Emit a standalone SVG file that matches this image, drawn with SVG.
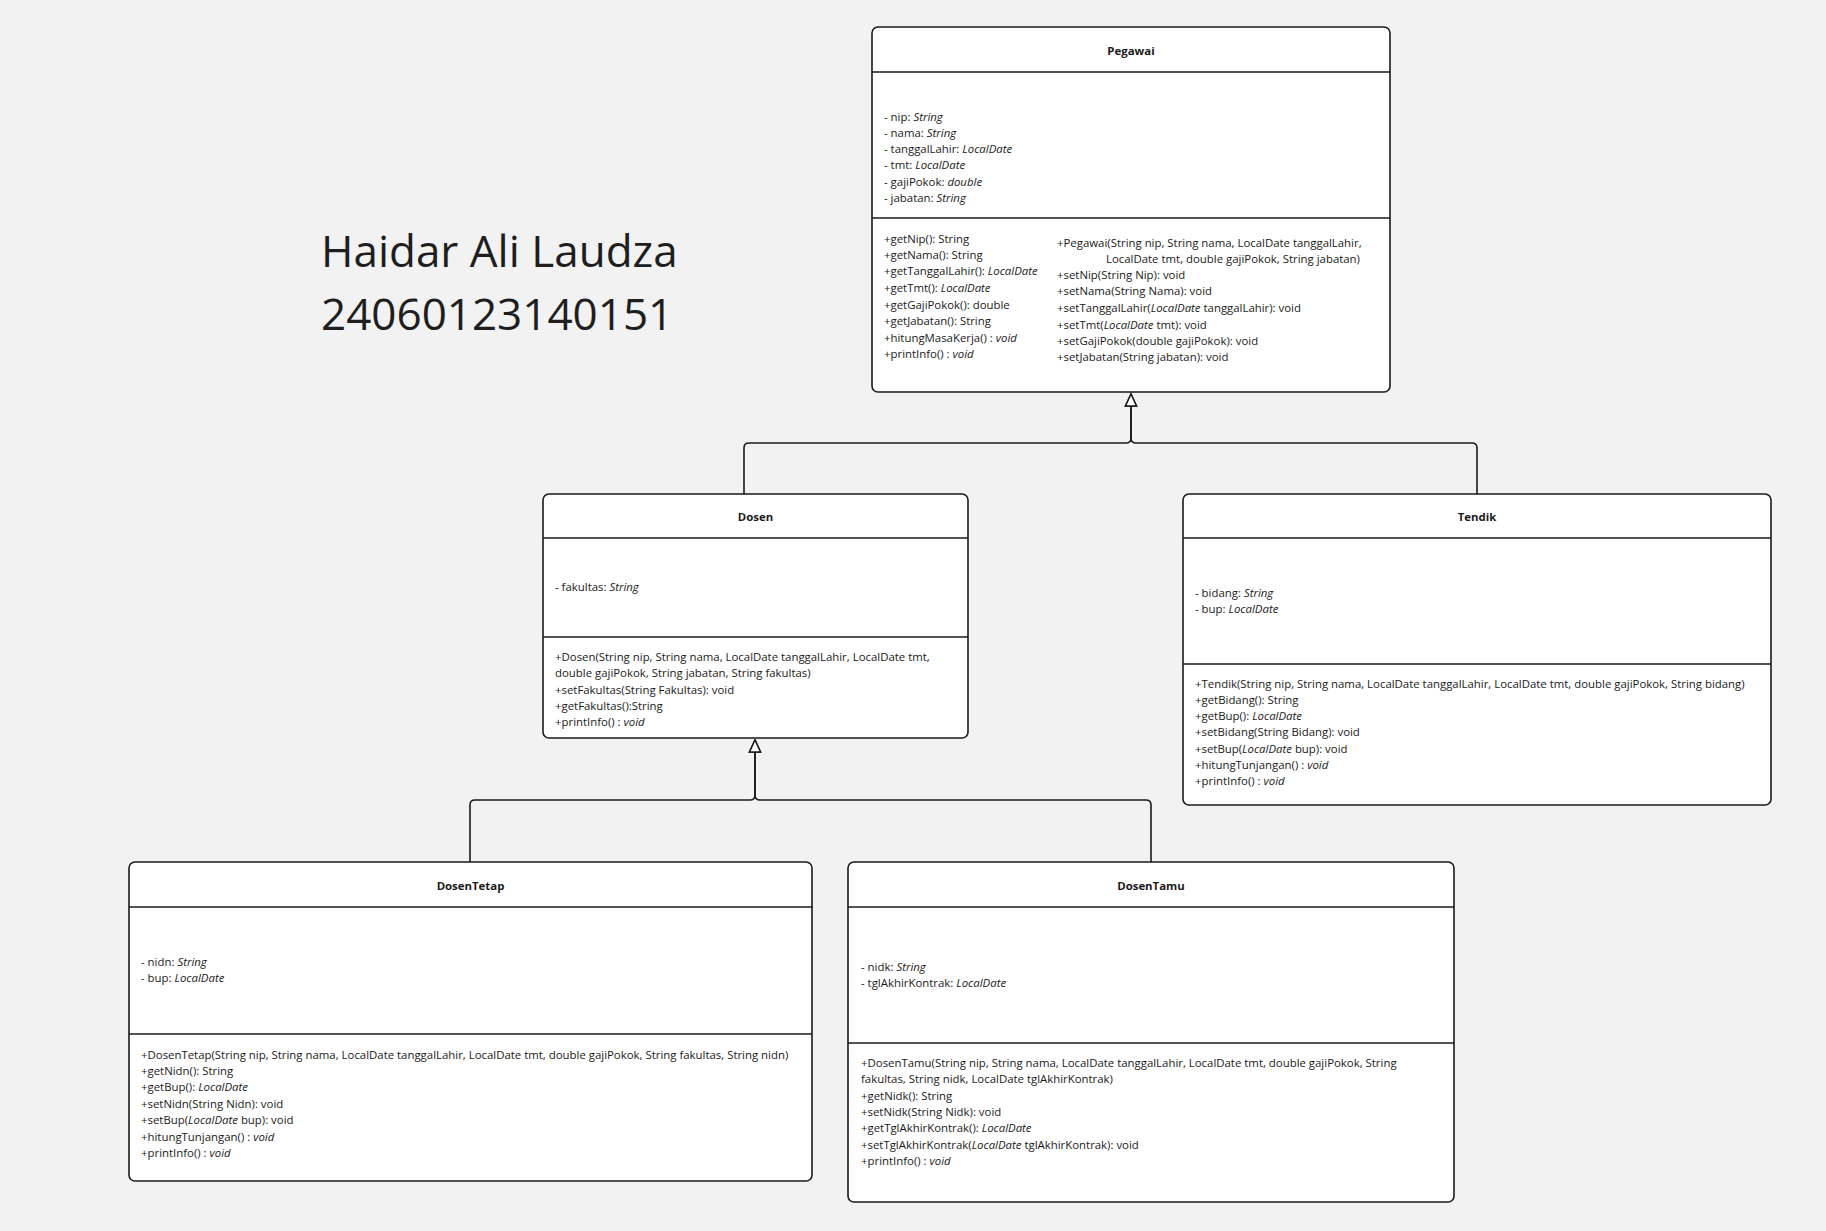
<svg xmlns="http://www.w3.org/2000/svg" width="1826" height="1231" viewBox="0 0 1826 1231">
<defs>
<style>
text{font-family:"Open Sans","Noto Sans","Liberation Sans",sans-serif;fill:#1a1a1a;font-size:11.4px}
.t{font-weight:bold;text-anchor:middle}
.i{font-style:italic}
.box{fill:#ffffff;stroke:#1a1a1a;stroke-width:1.6}
.div{stroke:#1a1a1a;stroke-width:1.6}
.name{font-size:44px;fill:#1e1e1e}
.conn{fill:none;stroke:#1a1a1a;stroke-width:1.6}
</style>
<marker id="gen" markerUnits="userSpaceOnUse" markerWidth="16" markerHeight="16" viewBox="0 0 16 16" refX="14" refY="8" orient="auto">
<path d="M14,8 L2,2.5 L2,13.5 Z" fill="#ffffff" stroke="#1a1a1a" stroke-width="1.5"/>
</marker>
</defs>
<rect width="1826" height="1231" fill="#f2f2f2"/>

<text class="name" x="321" y="267">Haidar Ali Laudza</text>
<text class="name" x="321" y="330">24060123140151</text>

<g id="connectors">
<path class="conn" d="M744,494 V448 Q744,443 749,443 H1126 Q1131,443 1131,438 V394" marker-end="url(#gen)"/>
<path class="conn" d="M1477,494 V448 Q1477,443 1472,443 H1136 Q1131,443 1131,438 V394" marker-end="url(#gen)"/>
<path class="conn" d="M470,862 V805 Q470,800 475,800 H750 Q755,800 755,795 V740" marker-end="url(#gen)"/>
<path class="conn" d="M1151,862 V805 Q1151,800 1146,800 H760 Q755,800 755,795 V740" marker-end="url(#gen)"/>
</g>

<g id="Pegawai">
<rect class="box" x="872" y="27" width="518" height="365" rx="6"/>
<line class="div" x1="872" y1="72" x2="1390" y2="72"/>
<line class="div" x1="872" y1="218" x2="1390" y2="218"/>
<text class="t" x="1131" y="55">Pegawai</text>
<text x="884" y="121">- nip: <tspan class="i">String</tspan></text>
<text x="884" y="137">- nama: <tspan class="i">String</tspan></text>
<text x="884" y="153">- tanggalLahir: <tspan class="i">LocalDate</tspan></text>
<text x="884" y="169">- tmt: <tspan class="i">LocalDate</tspan></text>
<text x="884" y="186">- gajiPokok: <tspan class="i">double</tspan></text>
<text x="884" y="202">- jabatan: <tspan class="i">String</tspan></text>
<text x="884" y="243">+getNip(): String</text>
<text x="884" y="259">+getNama(): String</text>
<text x="884" y="275">+getTanggalLahir(): <tspan class="i">LocalDate</tspan></text>
<text x="884" y="292">+getTmt(): <tspan class="i">LocalDate</tspan></text>
<text x="884" y="309">+getGajiPokok(): double</text>
<text x="884" y="325">+getJabatan(): String</text>
<text x="884" y="342">+hitungMasaKerja() : <tspan class="i">void</tspan></text>
<text x="884" y="358">+printInfo() : <tspan class="i">void</tspan></text>
<text x="1057" y="247">+Pegawai(String nip, String nama, LocalDate tanggalLahir,</text>
<text x="1106" y="263">LocalDate tmt, double gajiPokok, String jabatan)</text>
<text x="1057" y="279">+setNip(String Nip): void</text>
<text x="1057" y="295">+setNama(String Nama): void</text>
<text x="1057" y="312">+setTanggalLahir(<tspan class="i">LocalDate</tspan> tanggalLahir): void</text>
<text x="1057" y="329">+setTmt(<tspan class="i">LocalDate</tspan> tmt): void</text>
<text x="1057" y="345">+setGajiPokok(double gajiPokok): void</text>
<text x="1057" y="361">+setJabatan(String jabatan): void</text>
</g>

<g id="Dosen">
<rect class="box" x="543" y="494" width="425" height="244" rx="6"/>
<line class="div" x1="543" y1="538" x2="968" y2="538"/>
<line class="div" x1="543" y1="637" x2="968" y2="637"/>
<text class="t" x="755.5" y="521">Dosen</text>
<text x="555" y="591">- fakultas: <tspan class="i">String</tspan></text>
<text x="555" y="661">+Dosen(String nip, String nama, LocalDate tanggalLahir, LocalDate tmt,</text>
<text x="555" y="677">double gajiPokok, String jabatan, String fakultas)</text>
<text x="555" y="694">+setFakultas(String Fakultas): void</text>
<text x="555" y="710">+getFakultas():String</text>
<text x="555" y="726">+printInfo() : <tspan class="i">void</tspan></text>
</g>

<g id="Tendik">
<rect class="box" x="1183" y="494" width="588" height="311" rx="6"/>
<line class="div" x1="1183" y1="538" x2="1771" y2="538"/>
<line class="div" x1="1183" y1="664" x2="1771" y2="664"/>
<text class="t" x="1477" y="521">Tendik</text>
<text x="1195" y="597">- bidang: <tspan class="i">String</tspan></text>
<text x="1195" y="613">- bup: <tspan class="i">LocalDate</tspan></text>
<text x="1195" y="688">+Tendik(String nip, String nama, LocalDate tanggalLahir, LocalDate tmt, double gajiPokok, String bidang)</text>
<text x="1195" y="704">+getBidang(): String</text>
<text x="1195" y="720">+getBup(): <tspan class="i">LocalDate</tspan></text>
<text x="1195" y="736">+setBidang(String Bidang): void</text>
<text x="1195" y="753">+setBup(<tspan class="i">LocalDate</tspan> bup): void</text>
<text x="1195" y="769">+hitungTunjangan() : <tspan class="i">void</tspan></text>
<text x="1195" y="785">+printInfo() : <tspan class="i">void</tspan></text>
</g>

<g id="DosenTetap">
<rect class="box" x="129" y="862" width="683" height="319" rx="6"/>
<line class="div" x1="129" y1="907" x2="812" y2="907"/>
<line class="div" x1="129" y1="1034" x2="812" y2="1034"/>
<text class="t" x="470.5" y="890">DosenTetap</text>
<text x="141" y="966">- nidn: <tspan class="i">String</tspan></text>
<text x="141" y="982">- bup: <tspan class="i">LocalDate</tspan></text>
<text x="141" y="1059">+DosenTetap(String nip, String nama, LocalDate tanggalLahir, LocalDate tmt, double gajiPokok, String fakultas, String nidn)</text>
<text x="141" y="1075">+getNidn(): String</text>
<text x="141" y="1091">+getBup(): <tspan class="i">LocalDate</tspan></text>
<text x="141" y="1108">+setNidn(String Nidn): void</text>
<text x="141" y="1124">+setBup(<tspan class="i">LocalDate</tspan> bup): void</text>
<text x="141" y="1141">+hitungTunjangan() : <tspan class="i">void</tspan></text>
<text x="141" y="1157">+printInfo() : <tspan class="i">void</tspan></text>
</g>

<g id="DosenTamu">
<rect class="box" x="848" y="862" width="606" height="340" rx="6"/>
<line class="div" x1="848" y1="907" x2="1454" y2="907"/>
<line class="div" x1="848" y1="1043" x2="1454" y2="1043"/>
<text class="t" x="1151" y="890">DosenTamu</text>
<text x="861" y="971">- nidk: <tspan class="i">String</tspan></text>
<text x="861" y="987">- tglAkhirKontrak: <tspan class="i">LocalDate</tspan></text>
<text x="861" y="1067">+DosenTamu(String nip, String nama, LocalDate tanggalLahir, LocalDate tmt, double gajiPokok, String</text>
<text x="861" y="1083">fakultas, String nidk, LocalDate tglAkhirKontrak)</text>
<text x="861" y="1100">+getNidk(): String</text>
<text x="861" y="1116">+setNidk(String Nidk): void</text>
<text x="861" y="1132">+getTglAkhirKontrak(): <tspan class="i">LocalDate</tspan></text>
<text x="861" y="1149">+setTglAkhirKontrak(<tspan class="i">LocalDate</tspan> tglAkhirKontrak): void</text>
<text x="861" y="1165">+printInfo() : <tspan class="i">void</tspan></text>
</g>
</svg>
